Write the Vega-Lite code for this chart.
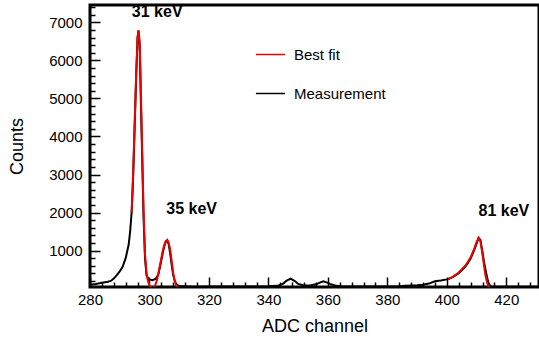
{
  "$schema": "https://vega.github.io/schema/vega-lite/v6.json",
  "width": 449,
  "height": 282,
  "autosize": {"type": "none"},
  "padding": {"left": 90, "top": 5, "right": 0, "bottom": 54},
  "background": "white",
  "config": {
    "font": "Liberation Sans",
    "view": {"stroke": "#000", "strokeWidth": 3},
    "axis": {"domain": false, "grid": false, "labelColor": "#000", "titleColor": "#000", "tickColor": "#000", "tickWidth": 1.5, "labelFont": "Liberation Sans", "titleFont": "Liberation Sans", "labelFontSize": 15, "titleFontSize": 18, "titleFontWeight": "normal"}
  },
  "datasets": {
    "spec": [
      {"s": "Measurement", "x": 280, "y": 100},
      {"s": "Measurement", "x": 282, "y": 120},
      {"s": "Measurement", "x": 284, "y": 150},
      {"s": "Measurement", "x": 286, "y": 180},
      {"s": "Measurement", "x": 287, "y": 200},
      {"s": "Measurement", "x": 288, "y": 260},
      {"s": "Measurement", "x": 289, "y": 350},
      {"s": "Measurement", "x": 290, "y": 450},
      {"s": "Measurement", "x": 291, "y": 580},
      {"s": "Measurement", "x": 292, "y": 800},
      {"s": "Measurement", "x": 293, "y": 1150},
      {"s": "Measurement", "x": 293.5, "y": 1500},
      {"s": "Measurement", "x": 294, "y": 2000},
      {"s": "Measurement", "x": 294.5, "y": 2900},
      {"s": "Measurement", "x": 295, "y": 4200},
      {"s": "Measurement", "x": 295.5, "y": 5500},
      {"s": "Measurement", "x": 296, "y": 6600},
      {"s": "Measurement", "x": 296.3, "y": 6780},
      {"s": "Measurement", "x": 296.7, "y": 6400},
      {"s": "Measurement", "x": 297, "y": 5300},
      {"s": "Measurement", "x": 297.5, "y": 3600},
      {"s": "Measurement", "x": 298, "y": 1900},
      {"s": "Measurement", "x": 298.5, "y": 800},
      {"s": "Measurement", "x": 299, "y": 350},
      {"s": "Measurement", "x": 299.5, "y": 270},
      {"s": "Measurement", "x": 300, "y": 240},
      {"s": "Measurement", "x": 301, "y": 220},
      {"s": "Measurement", "x": 302, "y": 250},
      {"s": "Measurement", "x": 302.5, "y": 300},
      {"s": "Measurement", "x": 303, "y": 380},
      {"s": "Measurement", "x": 303.5, "y": 550},
      {"s": "Measurement", "x": 304, "y": 750},
      {"s": "Measurement", "x": 304.5, "y": 950},
      {"s": "Measurement", "x": 305, "y": 1120},
      {"s": "Measurement", "x": 305.5, "y": 1230},
      {"s": "Measurement", "x": 306, "y": 1270},
      {"s": "Measurement", "x": 306.5, "y": 1150},
      {"s": "Measurement", "x": 307, "y": 900},
      {"s": "Measurement", "x": 307.5, "y": 600},
      {"s": "Measurement", "x": 308, "y": 350},
      {"s": "Measurement", "x": 308.5, "y": 200},
      {"s": "Measurement", "x": 309, "y": 120},
      {"s": "Measurement", "x": 309.5, "y": 80},
      {"s": "Measurement", "x": 310, "y": 65},
      {"s": "Measurement", "x": 311, "y": 60},
      {"s": "Measurement", "x": 315, "y": 45},
      {"s": "Measurement", "x": 320, "y": 50},
      {"s": "Measurement", "x": 325, "y": 50},
      {"s": "Measurement", "x": 330, "y": 55},
      {"s": "Measurement", "x": 335, "y": 55},
      {"s": "Measurement", "x": 340, "y": 60},
      {"s": "Measurement", "x": 343, "y": 70},
      {"s": "Measurement", "x": 345, "y": 130},
      {"s": "Measurement", "x": 346, "y": 200},
      {"s": "Measurement", "x": 347.5, "y": 260},
      {"s": "Measurement", "x": 349, "y": 190},
      {"s": "Measurement", "x": 350, "y": 120},
      {"s": "Measurement", "x": 352, "y": 80},
      {"s": "Measurement", "x": 354, "y": 80},
      {"s": "Measurement", "x": 356, "y": 110},
      {"s": "Measurement", "x": 357.5, "y": 160},
      {"s": "Measurement", "x": 358.5, "y": 190},
      {"s": "Measurement", "x": 360, "y": 150},
      {"s": "Measurement", "x": 361, "y": 110},
      {"s": "Measurement", "x": 363, "y": 70},
      {"s": "Measurement", "x": 365, "y": 55},
      {"s": "Measurement", "x": 370, "y": 50},
      {"s": "Measurement", "x": 375, "y": 50},
      {"s": "Measurement", "x": 380, "y": 55},
      {"s": "Measurement", "x": 384, "y": 60},
      {"s": "Measurement", "x": 386, "y": 70},
      {"s": "Measurement", "x": 388, "y": 80},
      {"s": "Measurement", "x": 390, "y": 85},
      {"s": "Measurement", "x": 392, "y": 100},
      {"s": "Measurement", "x": 394, "y": 130},
      {"s": "Measurement", "x": 396, "y": 190},
      {"s": "Measurement", "x": 398, "y": 210},
      {"s": "Measurement", "x": 400, "y": 240},
      {"s": "Measurement", "x": 402, "y": 300},
      {"s": "Measurement", "x": 404, "y": 400},
      {"s": "Measurement", "x": 406, "y": 560},
      {"s": "Measurement", "x": 407, "y": 660},
      {"s": "Measurement", "x": 408, "y": 790},
      {"s": "Measurement", "x": 409, "y": 970},
      {"s": "Measurement", "x": 410, "y": 1180},
      {"s": "Measurement", "x": 410.7, "y": 1330},
      {"s": "Measurement", "x": 411.3, "y": 1280},
      {"s": "Measurement", "x": 412, "y": 950},
      {"s": "Measurement", "x": 412.5, "y": 700},
      {"s": "Measurement", "x": 413, "y": 500},
      {"s": "Measurement", "x": 413.5, "y": 300},
      {"s": "Measurement", "x": 414, "y": 150},
      {"s": "Measurement", "x": 414.5, "y": 80},
      {"s": "Measurement", "x": 415, "y": 50},
      {"s": "Measurement", "x": 418, "y": 45},
      {"s": "Measurement", "x": 422, "y": 45},
      {"s": "Measurement", "x": 426, "y": 45},
      {"s": "Measurement", "x": 431, "y": 45},
      {"s": "Best fit", "x": 294, "y": 2000},
      {"s": "Best fit", "x": 294.5, "y": 3000},
      {"s": "Best fit", "x": 295, "y": 4300},
      {"s": "Best fit", "x": 295.5, "y": 5600},
      {"s": "Best fit", "x": 296, "y": 6600},
      {"s": "Best fit", "x": 296.3, "y": 6800},
      {"s": "Best fit", "x": 296.7, "y": 6500},
      {"s": "Best fit", "x": 297, "y": 5600},
      {"s": "Best fit", "x": 297.5, "y": 3800},
      {"s": "Best fit", "x": 298, "y": 2100},
      {"s": "Best fit", "x": 298.5, "y": 900},
      {"s": "Best fit", "x": 299, "y": 400},
      {"s": "Best fit", "x": 299.5, "y": 200},
      {"s": "Best fit", "x": 300, "y": 80},
      {"s": "Best fit", "x": 300.5, "y": 20},
      {"s": "Best fit", "x": 301, "y": 10},
      {"s": "Best fit", "x": 301.5, "y": 30},
      {"s": "Best fit", "x": 302, "y": 100},
      {"s": "Best fit", "x": 302.5, "y": 220},
      {"s": "Best fit", "x": 303, "y": 400},
      {"s": "Best fit", "x": 303.5, "y": 600},
      {"s": "Best fit", "x": 304, "y": 800},
      {"s": "Best fit", "x": 304.5, "y": 1000},
      {"s": "Best fit", "x": 305, "y": 1150},
      {"s": "Best fit", "x": 305.5, "y": 1250},
      {"s": "Best fit", "x": 306, "y": 1270},
      {"s": "Best fit", "x": 306.5, "y": 1200},
      {"s": "Best fit", "x": 307, "y": 1000},
      {"s": "Best fit", "x": 307.5, "y": 700},
      {"s": "Best fit", "x": 308, "y": 400},
      {"s": "Best fit", "x": 308.5, "y": 200},
      {"s": "Best fit", "x": 309, "y": 80},
      {"s": "Best fit", "x": 309.5, "y": 20},
      {"s": "Best fit2", "x": 400.5, "y": 240},
      {"s": "Best fit2", "x": 402, "y": 310},
      {"s": "Best fit2", "x": 404, "y": 420},
      {"s": "Best fit2", "x": 406, "y": 580},
      {"s": "Best fit2", "x": 407, "y": 690},
      {"s": "Best fit2", "x": 408, "y": 820},
      {"s": "Best fit2", "x": 409, "y": 1000},
      {"s": "Best fit2", "x": 410, "y": 1220},
      {"s": "Best fit2", "x": 410.7, "y": 1330},
      {"s": "Best fit2", "x": 411.3, "y": 1250},
      {"s": "Best fit2", "x": 412, "y": 900},
      {"s": "Best fit2", "x": 412.5, "y": 600},
      {"s": "Best fit2", "x": 413, "y": 350},
      {"s": "Best fit2", "x": 413.5, "y": 170},
      {"s": "Best fit2", "x": 414, "y": 60},
      {"s": "Best fit2", "x": 414.5, "y": 10}
    ],
    "notes": [
      {"label": "31 keV", "x": 302.6, "y": 7270},
      {"label": "35 keV", "x": 314.2, "y": 2090},
      {"label": "81 keV", "x": 419.2, "y": 2040}
    ]
  },
  "resolve": {"axis": {"x": "independent", "y": "independent"}},
  "layer": [
    {
      "data": {"name": "spec"},
      "transform": [{"filter": "datum.s === 'Measurement'"}],
      "mark": {"type": "line", "strokeWidth": 2, "clip": true},
      "encoding": {
        "x": {"field": "x", "type": "quantitative", "scale": {"domain": [280, 431], "nice": false, "zero": false},
          "axis": {"orient": "bottom", "title": "ADC channel", "values": [280, 300, 320, 340, 360, 380, 400, 420], "format": "d", "tickSize": -10, "labelPadding": 15, "titlePadding": 10, "labelFlush": false}},
        "y": {"field": "y", "type": "quantitative", "scale": {"domain": [40, 7460], "nice": false, "zero": false},
          "axis": {"orient": "left", "title": "Counts", "values": [1000, 2000, 3000, 4000, 5000, 6000, 7000], "format": "d", "tickSize": -10, "labelPadding": 18, "titlePadding": 22}},
        "color": {"datum": "Measurement", "type": "nominal",
          "scale": {"domain": ["Best fit", "Measurement"], "range": ["#ee0000", "#000000"]},
          "legend": {"title": null, "orient": "none", "legendX": 165, "legendY": 34, "symbolType": "stroke", "symbolSize": 850, "symbolStrokeWidth": 1.5, "labelFontSize": 15, "labelColor": "#000", "labelOffset": 8, "rowPadding": 15, "padding": 0}}
      }
    },
    {
      "data": {"name": "spec"},
      "transform": [{"filter": "datum.s !== 'Measurement'"}],
      "mark": {"type": "line", "strokeWidth": 2, "clip": true},
      "encoding": {
        "x": {"field": "x", "type": "quantitative",
          "axis": {"orient": "bottom", "title": null, "labels": false, "values": [284, 288, 292, 296, 304, 308, 312, 316, 324, 328, 332, 336, 344, 348, 352, 356, 364, 368, 372, 376, 384, 388, 392, 396, 404, 408, 412, 416, 424, 428], "tickSize": -5}},
        "y": {"field": "y", "type": "quantitative",
          "axis": {"orient": "left", "title": null, "labels": false, "values": [200, 400, 600, 800, 1200, 1400, 1600, 1800, 2200, 2400, 2600, 2800, 3200, 3400, 3600, 3800, 4200, 4400, 4600, 4800, 5200, 5400, 5600, 5800, 6200, 6400, 6600, 6800, 7200, 7400], "tickSize": -5}},
        "detail": {"field": "s"},
        "color": {"datum": "Best fit", "type": "nominal"}
      }
    },
    {
      "data": {"name": "notes"},
      "mark": {"type": "text", "fontWeight": "bold", "fontSize": 16, "font": "Liberation Sans", "color": "#000", "baseline": "middle", "align": "center"},
      "encoding": {
        "x": {"field": "x", "type": "quantitative", "axis": null},
        "y": {"field": "y", "type": "quantitative", "axis": null},
        "text": {"field": "label"}
      }
    }
  ]
}
